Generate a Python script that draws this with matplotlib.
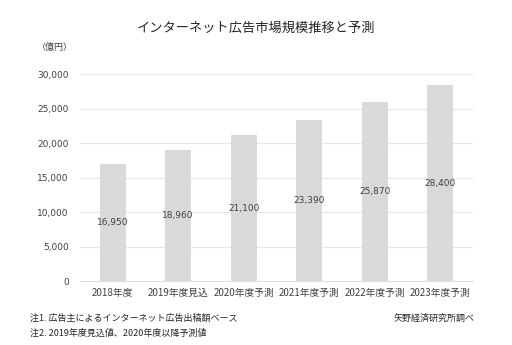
import matplotlib
matplotlib.use("Agg")
import matplotlib.pyplot as plt
from matplotlib.ticker import FuncFormatter

plt.rcParams['font.family'] = ['Noto Sans CJK JP', 'DejaVu Sans']
NUM_FONT = 'DejaVu Sans'

categories = ["2018年度", "2019年度見込", "2020年度予測", "2021年度予測", "2022年度予測", "2023年度予測"]
values = [16950, 18960, 21100, 23390, 25870, 28400]
yticks = [0, 5000, 10000, 15000, 20000, 25000, 30000]

fig = plt.figure(figsize=(5.12, 3.45), dpi=100)
ax = fig.add_axes([0.156, 0.1855, 0.768, 0.60])

x = list(range(len(categories)))
ax.bar(x, values, width=0.4, color="#d9d9d9", zorder=2)
for xi, v in zip(x, values):
    ax.text(xi, v / 2, f"{v:,}", ha="center", va="center", fontsize=6.5,
            family=NUM_FONT, color="#404040", zorder=3)

ax.set_ylim(0, 30000)
ax.set_xlim(-0.5, len(categories) - 0.5)
ax.set_yticks(yticks)
ax.yaxis.set_major_formatter(FuncFormatter(lambda v, p: f"{int(v):,}"))
for lab in ax.get_yticklabels():
    lab.set_family(NUM_FONT)
ax.set_xticks(x)
ax.set_xticklabels(categories, fontsize=7)
ax.tick_params(axis="both", length=0, colors="#404040")
ax.tick_params(axis="y", pad=8, labelsize=6.5)
ax.tick_params(axis="x", pad=5)
ax.grid(axis="y", color="#e6e6e6", linewidth=0.8, zorder=0)
for s in ["top", "right", "left"]:
    ax.spines[s].set_visible(False)
ax.spines["bottom"].set_color("#e0e0e0")
ax.spines["bottom"].set_linewidth(0.8)

fig.text(0.5, 0.918, "インターネット広告市場規模推移と予測", ha="center", va="center", fontsize=9.5, color="#262626")
fig.text(0.072, 0.862, "（億円）", ha="left", va="center", fontsize=6.5, color="#404040")
fig.text(0.058, 0.078, "注1. 広告主によるインターネット広告出稿額ベース", ha="left", va="center", fontsize=6.5, color="#262626")
fig.text(0.058, 0.034, "注2. 2019年度見込値、2020年度以降予測値", ha="left", va="center", fontsize=6.5, color="#262626")
fig.text(0.928, 0.078, "矢野経済研究所調べ", ha="right", va="center", fontsize=6.5, color="#262626")

fig.savefig("out.png", dpi=100)
